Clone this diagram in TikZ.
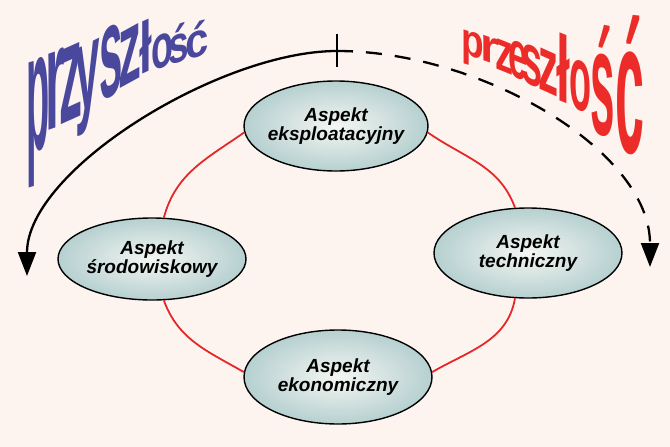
\documentclass[tikz,border=0pt]{standalone}
\usepackage{fontspec}
\usetikzlibrary{arrows.meta,shapes.geometric}
\newfontfamily\wafont{Liberation Sans}
\newfontfamily\lblfont{Liberation Sans}
\definecolor{bgc}{RGB}{253,244,240}
\definecolor{futc}{RGB}{74,72,156}
\definecolor{pastc}{RGB}{236,44,40}
\definecolor{ringc}{RGB}{228,40,40}
\definecolor{elin}{RGB}{244,246,242}
\definecolor{elout}{RGB}{182,208,208}
\tikzset{
  aspect/.style={ellipse, draw=black, line width=1.4pt, shade, shading=radial,
    inner color=elin, outer color=elout, inner sep=-4pt, align=center,
    font=\lblfont\bfseries\itshape\fontsize{19}{19}\selectfont},
  ring/.style={draw=ringc, line width=1.8pt},
  wordart/.style={anchor=base, inner sep=0pt, outer sep=0pt,
    font=\wafont\bfseries\fontsize{20}{20}\selectfont},
  timeline/.style={line width=2.3pt, -{Triangle[length=24pt,width=18pt]}},
  ticktl/.style={line width=2pt},
}
% name, x, baseline y, xscale, yscale, slant, colour, letter
\newcommand{\walet}[8]{%
  \begin{scope}[shift={(#2,#3)}, yslant=#6, xscale=#4, yscale=#5]
    \node[wordart, text=#7, transform shape] (#1) at (0,0) {#8};
  \end{scope}}
\begin{document}
\begin{tikzpicture}[x=1pt,y=-1pt]
\fill[bgc] (0,0) rectangle (670,447);
\useasboundingbox (0,0) rectangle (670,447);

% ellipses
\node[aspect, minimum width=184pt, minimum height=90pt] (eks) at (336,126) {Aspekt\\eksploatacyjny};
\node[aspect, minimum width=188pt, minimum height=82pt] (sro) at (152,259) {Aspekt\\środowiskowy};
\node[aspect, minimum width=188pt, minimum height=90pt] (tech) at (528,253) {Aspekt\\techniczny};
\node[aspect, minimum width=188pt, minimum height=94pt] (eko) at (338,377) {Aspekt\\ekonomiczny};

% red ring
\draw[ring] (eks.184) to[out=215,in=75] (sro.74);
\draw[ring] (sro.286) to[out=290,in=150] (eko.177);
\draw[ring] (eks.356) to[out=325,in=110] (tech.106);
\draw[ring] (tech.254) to[out=260,in=30] (eko.3);

% time line
\coordinate (apex) at (337,51);
\coordinate (futend) at (27,276);
\coordinate (pastend) at (650,267);
\coordinate (tickt) at (337,34);
\coordinate (tickb) at (337,67);
\draw[timeline] (apex) .. controls (220,51) and (27,170) .. (futend);
\draw[timeline, dash pattern=on 16pt off 13pt] (apex) .. controls (480,51) and (650,150) .. (pastend);
\draw[ticktl] (tickt) -- (tickb);

% przyszlosc
\walet{b1}{38}{150}{1.9}{8.5}{0.3}{futc}{p}
\walet{b2}{55}{128}{2.5}{7.2}{0.35}{futc}{r}
\walet{b3}{71}{120}{2.3}{7.0}{0.45}{futc}{z}
\walet{b4}{88}{107}{2.2}{6.0}{0.5}{futc}{y}
\walet{b5}{111}{96}{2.1}{6.5}{0.55}{futc}{s}
\walet{b6}{130}{83}{2.3}{5.2}{0.55}{futc}{z}
\walet{b7}{146}{73}{2.3}{3.6}{0.45}{futc}{ł}
\walet{b8}{162}{68}{1.8}{3.1}{0.35}{futc}{o}
\walet{b9}{179}{62}{1.85}{2.6}{0.3}{futc}{ś}
\walet{b10}{197}{57}{2.1}{2.4}{0.28}{futc}{ć}

% przeszlosc
\walet{r1}{473}{57}{1.85}{2.3}{-0.3}{pastc}{p}
\walet{r2}{490}{63}{2.4}{2.4}{-0.35}{pastc}{r}
\walet{r3}{504}{72}{1.8}{2.9}{-0.4}{pastc}{z}
\walet{r4}{518}{78}{1.75}{3.4}{-0.4}{pastc}{e}
\walet{r5}{532}{85}{1.9}{3.66}{-0.45}{pastc}{s}
\walet{r6}{548}{93}{2.0}{3.95}{-0.45}{pastc}{z}
\walet{r7}{563}{102}{2.5}{4.7}{-0.4}{pastc}{ł}
\walet{r8}{580}{110}{1.8}{4.6}{-0.35}{pastc}{o}
\walet{r9}{603}{135}{2.2}{7.5}{-0.2}{pastc}{ś}
\walet{r10}{630}{153}{2.6}{9.4}{-0.1}{pastc}{ć}
\end{tikzpicture}
\end{document}
